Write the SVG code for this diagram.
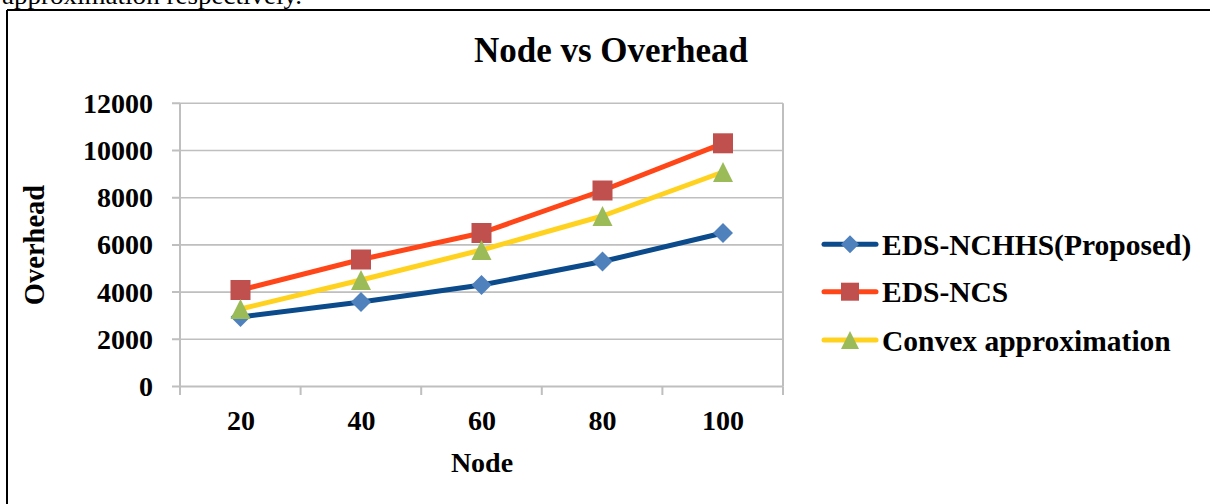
<svg xmlns="http://www.w3.org/2000/svg" width="1210" height="504" viewBox="0 0 1210 504">
<style>
text{font-family:"Liberation Serif","Times New Roman",serif;fill:#000}
.b{font-weight:bold}
.grid{stroke:#bfbfbf;stroke-width:1.6;fill:none}
.ax{stroke:#bfbfbf;stroke-width:2;fill:none}
.ylab{font-size:28px;font-weight:bold;text-anchor:end}
.xlab{font-size:28px;font-weight:bold;text-anchor:middle}
.leg{font-size:29.5px;font-weight:bold}
.l1{stroke:#0b4a8b;stroke-width:5;fill:none;stroke-linejoin:round;stroke-linecap:round}
.l2{stroke:#ff4618;stroke-width:5;fill:none;stroke-linejoin:round;stroke-linecap:round}
.l3{stroke:#ffd21f;stroke-width:5;fill:none;stroke-linejoin:round;stroke-linecap:round}
.m1{fill:#4f81bd}
.m2{fill:#c0504d}
.m3{fill:#9bbb59}
</style>
<defs>
<path id="dia" d="M0,-10 L10,0 L0,10 L-10,0 Z"/>
<rect id="sq" x="-10" y="-10" width="20" height="20"/>
<path id="tri" d="M0,-10 L10,10 L-10,10 Z"/>
<path id="diaS" d="M0,-9 L9,0 L0,9 L-9,0 Z"/>
<rect id="sqS" x="-9" y="-9" width="18" height="18"/>
<path id="triS" d="M0,-9 L9,9 L-9,9 Z"/>
</defs>

<text x="2" y="4" font-size="26" textLength="300" lengthAdjust="spacingAndGlyphs">approximation respectively.</text>

<g id="frame">
<path d="M7,10 H1210 M7,10 V504" stroke="#000" stroke-width="2" fill="none"/>
</g>

<g id="title"><text class="b" x="611" y="62" font-size="35" text-anchor="middle">Node vs Overhead</text></g>

<g id="gridlines">
<path class="grid" d="M180,103.3 H783 M180,150.5 H783 M180,197.7 H783 M180,244.9 H783 M180,292.1 H783 M180,339.3 H783"/>
</g>

<g id="axes">
<path class="ax" d="M180,103.3 V386.5 M180,386.5 H783 M783,103.3 V386.5"/>
<path class="ax" d="M172,103.3 H180 M172,150.5 H180 M172,197.7 H180 M172,244.9 H180 M172,292.1 H180 M172,339.3 H180 M172,386.5 H180"/>
<path class="ax" d="M180,386.5 V395 M300.6,386.5 V395 M421.2,386.5 V395 M541.8,386.5 V395 M662.4,386.5 V395 M783,386.5 V395"/>
</g>

<g id="y-labels">
<text class="ylab" x="153" y="112.8">12000</text>
<text class="ylab" x="153" y="160">10000</text>
<text class="ylab" x="153" y="207.2">8000</text>
<text class="ylab" x="153" y="254.4">6000</text>
<text class="ylab" x="153" y="301.6">4000</text>
<text class="ylab" x="153" y="348.8">2000</text>
<text class="ylab" x="153" y="396">0</text>
</g>

<g id="x-labels">
<text class="xlab" x="241" y="430">20</text>
<text class="xlab" x="361.5" y="430">40</text>
<text class="xlab" x="482" y="430">60</text>
<text class="xlab" x="602.5" y="430">80</text>
<text class="xlab" x="723" y="430">100</text>
</g>

<g id="axis-titles">
<text class="b" x="482" y="472" font-size="28" text-anchor="middle">Node</text>
<text class="b" font-size="28.5" text-anchor="middle" transform="translate(44,245) rotate(-90)">Overhead</text>
</g>

<g id="series-eds-nchhs">
<polyline class="l1" points="240.5,317 361,302 481.5,285 602.5,261.5 723,233"/>
<use href="#dia" class="m1" x="240.5" y="317"/>
<use href="#dia" class="m1" x="361" y="302"/>
<use href="#dia" class="m1" x="481.5" y="285"/>
<use href="#dia" class="m1" x="602.5" y="261.5"/>
<use href="#dia" class="m1" x="723" y="233"/>
</g>

<g id="series-eds-ncs">
<polyline class="l2" points="240.5,290 361,259.5 481.5,233 602.5,190.5 723,143.3"/>
<use href="#sq" class="m2" x="240.5" y="290"/>
<use href="#sq" class="m2" x="361" y="259.5"/>
<use href="#sq" class="m2" x="481.5" y="233"/>
<use href="#sq" class="m2" x="602.5" y="190.5"/>
<use href="#sq" class="m2" x="723" y="143.3"/>
</g>

<g id="series-convex">
<polyline class="l3" points="240.5,309 361,280 481.5,250 602.5,216 723,172"/>
<use href="#tri" class="m3" x="240.5" y="309"/>
<use href="#tri" class="m3" x="361" y="280"/>
<use href="#tri" class="m3" x="481.5" y="250"/>
<use href="#tri" class="m3" x="602.5" y="216"/>
<use href="#tri" class="m3" x="723" y="172"/>
</g>

<g id="legend">
<g id="legend-1">
<line class="l1" x1="824" y1="244.3" x2="876" y2="244.3"/>
<use href="#diaS" class="m1" x="850" y="244.3"/>
<text class="leg" x="882" y="254.5">EDS-NCHHS(Proposed)</text>
</g>
<g id="legend-2">
<line class="l2" x1="824" y1="291.7" x2="876" y2="291.7"/>
<use href="#sqS" class="m2" x="850" y="291.7"/>
<text class="leg" x="882" y="302">EDS-NCS</text>
</g>
<g id="legend-3">
<line class="l3" x1="824" y1="340" x2="876" y2="340"/>
<use href="#triS" class="m3" x="850" y="340"/>
<text class="leg" x="882" y="350.5">Convex approximation</text>
</g>
</g>
</svg>
